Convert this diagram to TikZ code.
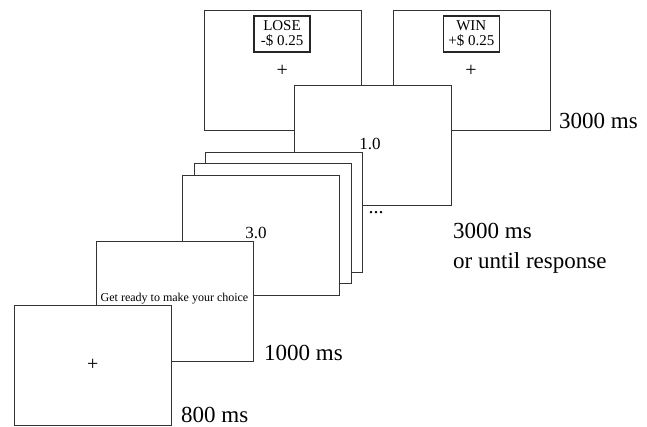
\documentclass[tikz,border=0pt]{standalone}
\usepackage{fontspec}
\setmainfont{Liberation Serif}
\begin{document}
\begin{tikzpicture}[x=1pt,y=-1pt,
  screen/.style={draw=black!80, line width=0.9pt, fill=white, minimum width=157pt, minimum height=120pt, inner sep=0pt, outer sep=0pt, anchor=north west},
  fbbox/.style={draw=black!85, line width=1.4pt, fill=white, align=center, inner sep=0pt, minimum width=56pt, minimum height=36pt, font=\fontsize{15}{15}\selectfont},
  plus/.style={font=\fontsize{20}{20}\selectfont, inner sep=0pt},
  num/.style={font=\fontsize{17}{17}\selectfont, inner sep=0pt},
  dotstyle/.style={font=\fontsize{20}{20}\selectfont, inner sep=0pt},
  small/.style={font=\fontsize{12}{12}\selectfont, inner sep=0pt},
  timing/.style={font=\fontsize{23}{30}\selectfont, anchor=west, inner sep=0pt, align=left},
]
\useasboundingbox (0,0) rectangle (647,426);
% feedback screens
\node[screen] (lose) at (204,10.7) {};
\node[screen] (win) at (393.3,10.7) {};
\node[fbbox] (losebox) at (282,34) {LOSE\\-\$ 0.25};
\node[fbbox] (winbox) at (471.3,34) {WIN\\+\$ 0.25};
\node[plus] (loseplus) at (282.3,71) {+};
\node[plus] (winplus) at (471,71) {+};
\node[timing] (t3000a) at (559,121) {3000 ms};
% choice screens
\node[screen] (one) at (294.5,85) {};
\node[num] (onelabel) at (370,144) {1.0};
\node[screen] (fA) at (205.7,152.3) {};
\node[screen] (fB) at (194.3,163.7) {};
\node[screen] (fC) at (182,175) {};
\node[num] (threelabel) at (256,233) {3.0};
\node[dotstyle] (dots) at (376,213) {...};
\node[timing] (t3000b) at (453,248) {3000 ms\\or until response};
% get ready screen
\node[screen] (ready) at (96.7,241.7) {};
\node[small] (readytext) at (174.5,298.3) {Get ready to make your choice};
\node[timing] (t1000) at (264,353) {1000 ms};
% fixation screen
\node[screen] (fix) at (14.3,305.7) {};
\node[plus] (fixplus) at (92.7,365) {+};
\node[timing] (t800) at (181,414.5) {800 ms};
\end{tikzpicture}
\end{document}
